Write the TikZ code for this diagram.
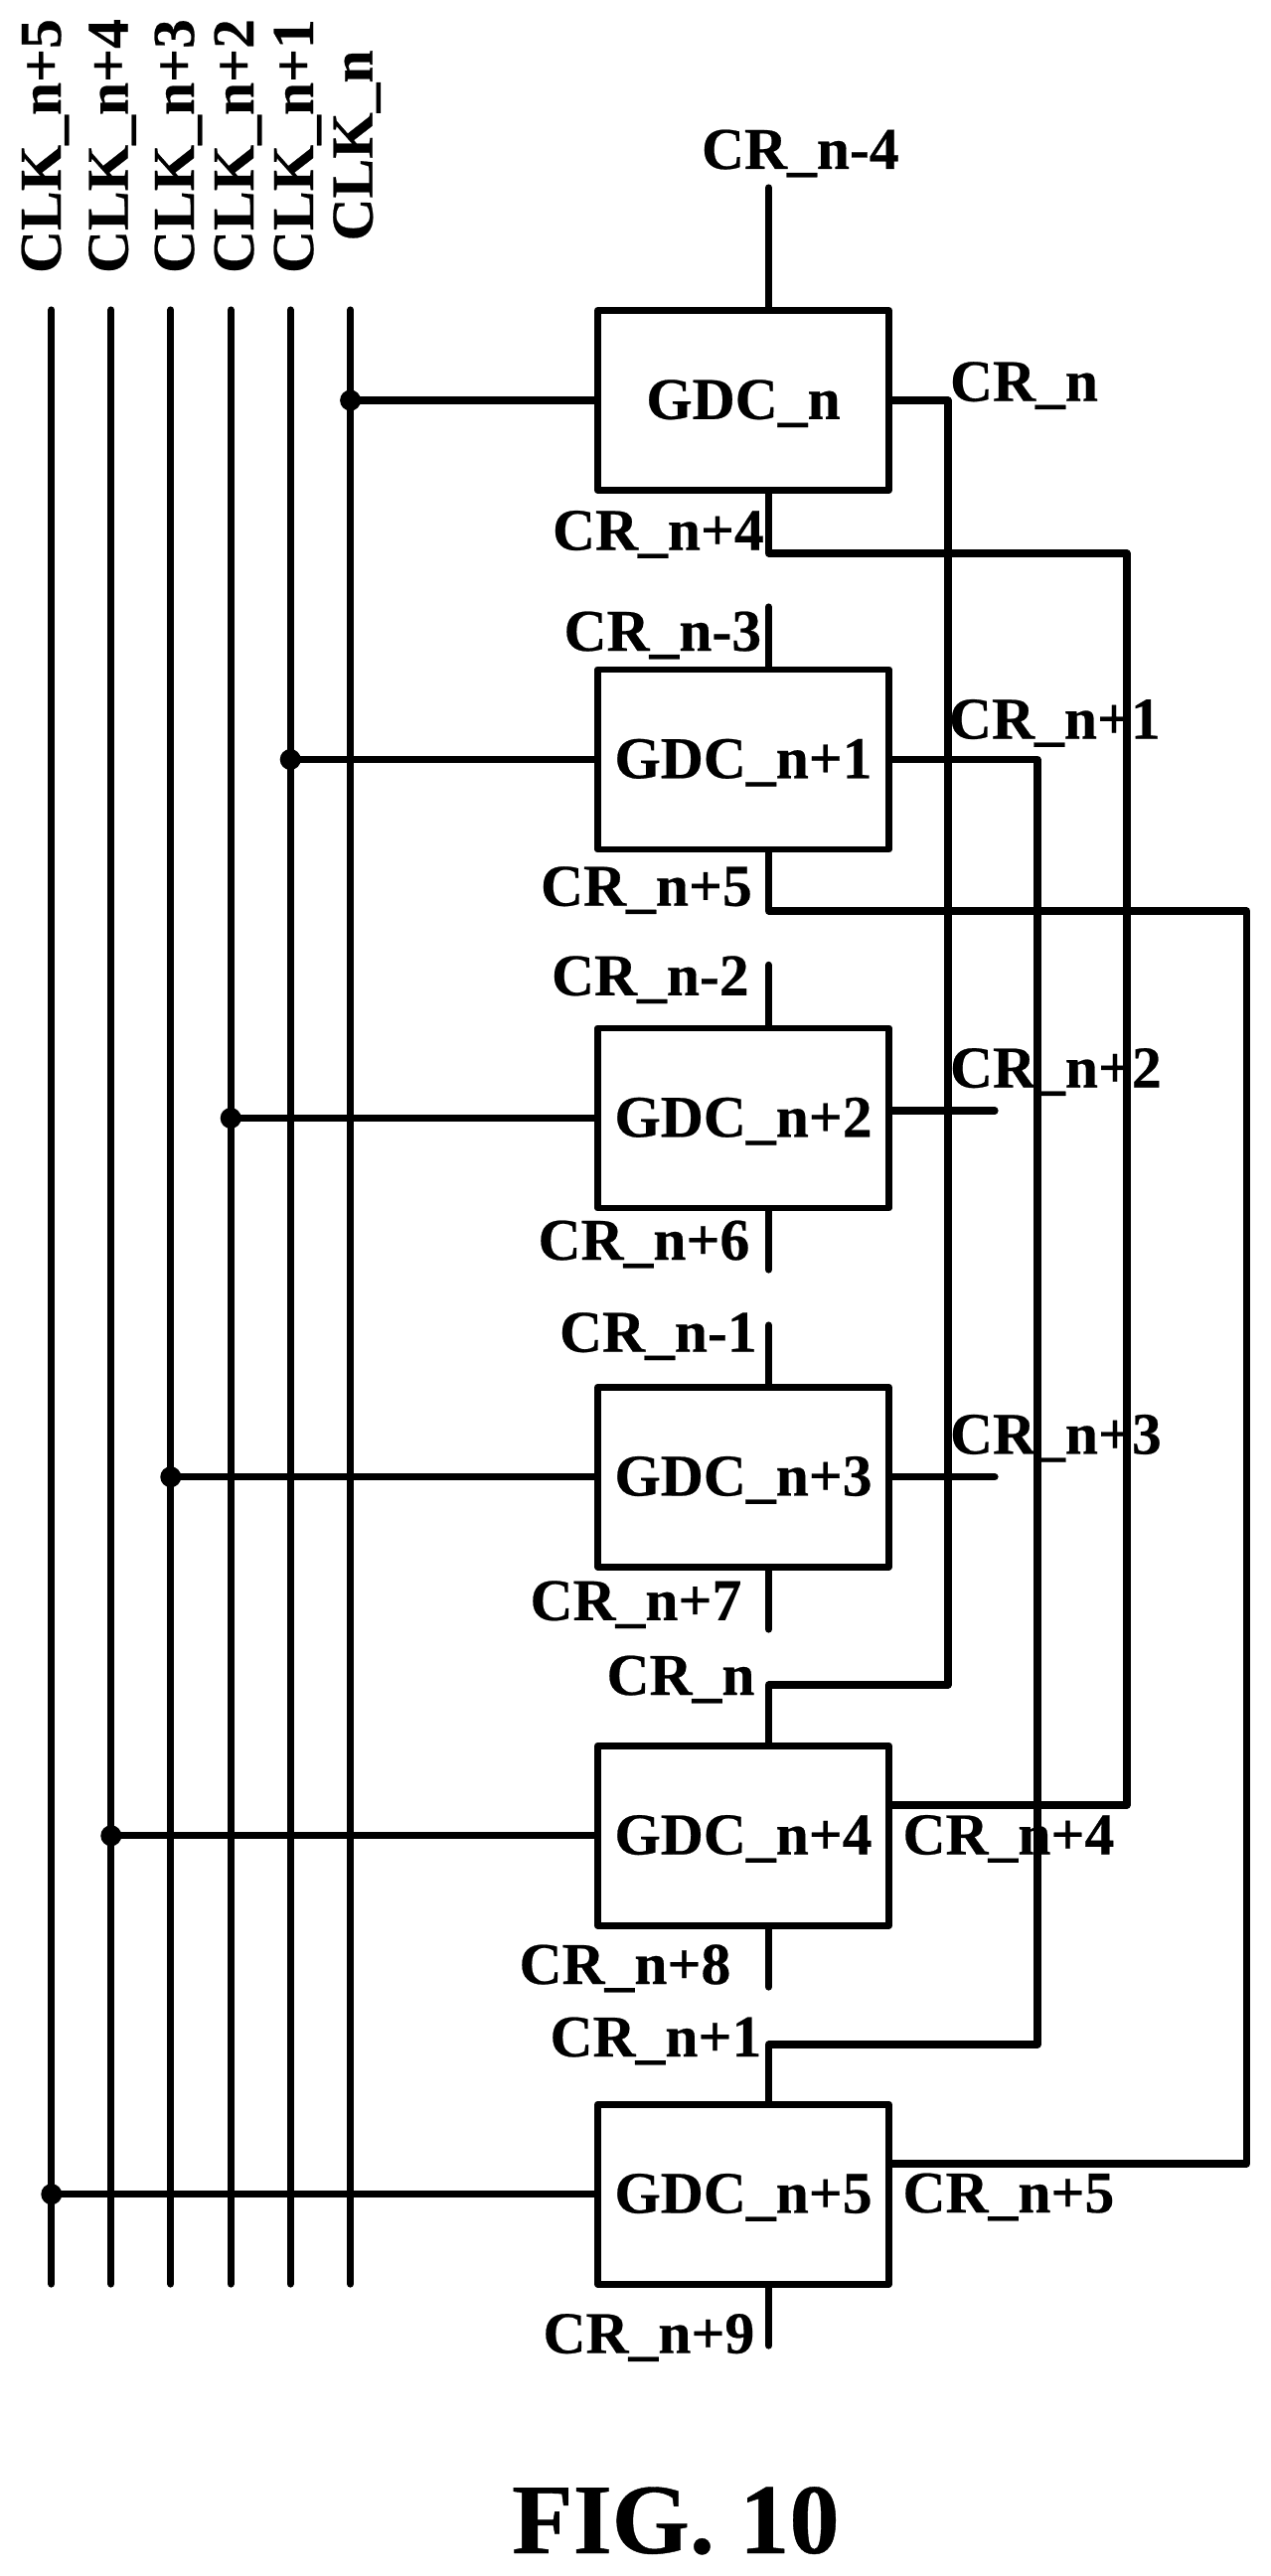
\documentclass[tikz,border=0pt]{standalone}
\usepackage{fontspec}
\setmainfont{Liberation Serif}[Kerning=Off,BoldFeatures={FakeBold=0.4}]
\tikzset{
  x=1pt,y=-1pt,
  wire/.style={line width=7.2pt,line cap=round,line join=round,black},
  gdc/.style={draw=black,line width=6.8pt,line join=round,minimum width=293pt,minimum height=181pt,inner sep=0pt,
    text height=40pt,text depth=2.5pt,font=\bfseries\fontsize{59.6}{61}\selectfont},
  lab/.style={anchor=base west,inner sep=0pt,outer sep=0pt,font=\bfseries\fontsize{59.6}{61}\selectfont},
  clk/.style={lab,rotate=90},
  fig/.style={anchor=base west,inner sep=0pt,font=\bfseries\fontsize{100.5}{102}\selectfont},
  junction/.style={circle,fill=black,draw=none,inner sep=0pt,minimum size=21pt}
}
\begin{document}
\begin{tikzpicture}
\useasboundingbox (0,0) rectangle (1278,2593);
\fill[white] (0,0) rectangle (1278,2593);

% GDC blocks
\node[gdc] (b1) at (748,403) {GDC\_n};
\node[gdc] (b2) at (748,764.5) {GDC\_n+1};
\node[gdc] (b3) at (748,1125.5) {GDC\_n+2};
\node[gdc] (b4) at (748,1486.7) {GDC\_n+3};
\node[gdc] (b5) at (748,1847.8) {GDC\_n+4};
\node[gdc] (b6) at (748,2208.7) {GDC\_n+5};

% clock buses
\coordinate (k5t) at (51.8,312);   \coordinate (k5b) at (51.8,2299);
\coordinate (k4t) at (111.8,312);  \coordinate (k4b) at (111.8,2299);
\coordinate (k3t) at (171.8,312);  \coordinate (k3b) at (171.8,2299);
\coordinate (k2t) at (232.2,312);  \coordinate (k2b) at (232.2,2299);
\coordinate (k1t) at (292.2,312);  \coordinate (k1b) at (292.2,2299);
\coordinate (k0t) at (352.6,312);  \coordinate (k0b) at (352.6,2299);
\draw[wire] (k5t) -- (k5b);
\draw[wire] (k4t) -- (k4b);
\draw[wire] (k3t) -- (k3b);
\draw[wire] (k2t) -- (k2b);
\draw[wire] (k1t) -- (k1b);
\draw[wire] (k0t) -- (k0b);

% junctions and clock taps
\node[junction] (j0) at (k0t |- b1.west) {};
\node[junction] (j1) at (k1t |- b2.west) {};
\node[junction] (j2) at (k2t |- b3.west) {};
\node[junction] (j3) at (k3t |- b4.west) {};
\node[junction] (j4) at (k4t |- b5.west) {};
\node[junction] (j5) at (k5t |- b6.west) {};
\draw[wire] (j0.center) -- (b1.west);
\draw[wire] (j1.center) -- (b2.west);
\draw[wire] (j2.center) -- (b3.west);
\draw[wire] (j3.center) -- (b4.west);
\draw[wire] (j4.center) -- (b5.west);
\draw[wire] (j5.center) -- (b6.west);

% routing coordinates
\coordinate (sx) at (773.5,0);
\coordinate (r0) at (954,1696);
\coordinate (r1) at (1044,2058);
\coordinate (r4) at (1134,557);
\coordinate (r5) at (1254.5,917);
\coordinate (e4) at (1134,1817);
\coordinate (e5) at (1254.5,2178);
\coordinate (t1) at (773.5,189);
\coordinate (t2) at (773.5,611);
\coordinate (t3) at (773.5,971.4);
\coordinate (d3) at (773.5,1278);
\coordinate (t4) at (773.5,1334);
\coordinate (d4) at (773.5,1640);
\coordinate (d5) at (773.5,2000);
\coordinate (d6) at (773.5,2361);
\coordinate (o3) at (1001,1118);
\coordinate (o4) at (1001,1486.7);

% stubs
\draw[wire] (t1) -- (t1 |- b1.north);
\draw[wire] (t2) -- (t2 |- b2.north);
\draw[wire] (t3) -- (t3 |- b3.north);
\draw[wire] (d3) -- (d3 |- b3.south);
\draw[wire] (t4) -- (t4 |- b4.north);
\draw[wire] (d4) -- (d4 |- b4.south);
\draw[wire] (d5) -- (d5 |- b5.south);
\draw[wire] (d6) -- (d6 |- b6.south);
\draw[wire] (o3) -- (o3 -| b3.east);
\draw[wire] (o4) -- (b4.east);

% cross-connections
\draw[wire] (b1.east) -- (r0 |- b1.east) -- (r0) -- (r0 -| sx) -- (sx |- b5.north);
\draw[wire] (sx |- b1.south) -- (sx |- r4) -- (r4) -- (e4) -- (e4 -| b5.east);
\draw[wire] (b2.east) -- (r1 |- b2.east) -- (r1) -- (r1 -| sx) -- (sx |- b6.north);
\draw[wire] (sx |- b2.south) -- (sx |- r5) -- (r5) -- (e5) -- (e5 -| b6.east);

% clock labels
\node[clk] (lk5) at (61,275) {CLK\_n+5};
\node[clk] (lk4) at (128.6,275) {CLK\_n+4};
\node[clk] (lk3) at (195,275) {CLK\_n+3};
\node[clk] (lk2) at (255,275) {CLK\_n+2};
\node[clk] (lk1) at (315,275) {CLK\_n+1};
\node[clk] (lk0) at (374.7,242.5) {CLK\_n};

% CR labels
\node[lab] (l01) at (706,170) {CR\_n-4};
\node[lab] (l02) at (956,403.7) {CR\_n};
\node[lab] (l03) at (556,553.5) {CR\_n+4};
\node[lab] (l04) at (567.5,655) {CR\_n-3};
\node[lab] (l05) at (955,743.5) {CR\_n+1};
\node[lab] (l06) at (544,911.7) {CR\_n+5};
\node[lab] (l07) at (555,1001.8) {CR\_n-2};
\node[lab] (l08) at (956,1094.6) {CR\_n+2};
\node[lab] (l09) at (541.5,1268) {CR\_n+6};
\node[lab] (l10) at (563,1360.7) {CR\_n-1};
\node[lab] (l11) at (956,1463.4) {CR\_n+3};
\node[lab] (l12) at (533.5,1630.8) {CR\_n+7};
\node[lab] (l13) at (610.5,1706) {CR\_n};
\node[lab] (l14) at (908.5,1866.5) {CR\_n+4};
\node[lab] (l15) at (522.5,1997) {CR\_n+8};
\node[lab] (l16) at (553.5,2070) {CR\_n+1};
\node[lab] (l17) at (908.5,2227) {CR\_n+5};
\node[lab] (l18) at (546.5,2368.6) {CR\_n+9};

\node[fig] (title) at (515,2570) {FIG. 10};
\end{tikzpicture}
\end{document}
